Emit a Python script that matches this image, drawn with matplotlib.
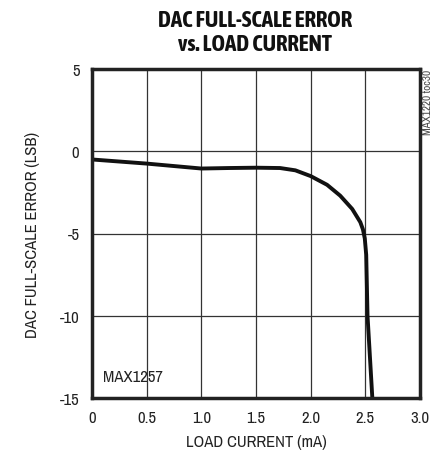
import matplotlib
matplotlib.use("Agg")
import matplotlib.pyplot as plt
from matplotlib import font_manager

load_ma = [0.0, 0.5, 1.0, 1.25, 1.5, 1.72, 1.86, 2.0, 2.15, 2.27, 2.38, 2.454, 2.478, 2.495, 2.508, 2.52, 2.564]
fs_err = [-0.5, -0.75, -1.05, -1.02, -1.0, -1.02, -1.16, -1.51, -2.04, -2.7, -3.51, -4.31, -4.75, -5.3, -6.3, -10.0, -15.0]

x_ticks = [0, 0.5, 1.0, 1.5, 2.0, 2.5, 3.0]
x_labels = ["0", "0.5", "1.0", "1.5", "2.0", "2.5", "3.0"]
y_ticks = [-15, -10, -5, 0, 5]

plt.rcParams["axes.unicode_minus"] = False

# narrow fonts like the datasheet ones
ttf = font_manager.fontManager.ttflist
names = {f.name for f in ttf}
if "Archivo Narrow" in names:
    fp = font_manager.FontProperties(family="Archivo Narrow", style="normal", weight="normal")
else:
    fp = font_manager.FontProperties(family="Liberation Sans")

narrow = [f for f in ttf if ("Narrow" in f.name or "Condensed" in f.name
                             or f.stretch in ("condensed", "semi-condensed"))]
heavy = [f for f in narrow if f.weight in (700, "bold") and f.style == "normal"]
heavy.sort(key=lambda f: (not f.name.startswith("Archivo"), f.name))
if heavy:
    fpb = font_manager.FontProperties(fname=heavy[0].fname)
else:
    fpb = font_manager.FontProperties(family="Liberation Sans", weight="bold")

fig = plt.figure(figsize=(4.43, 4.6), dpi=100)
ax = fig.add_axes([92 / 443, 1 - 399 / 460, 328 / 443, 329 / 460])

ax.plot(load_ma, fs_err, color="#111111", linewidth=2.8, solid_capstyle="butt")

ax.set_xlim(0, 3.0)
ax.set_ylim(-15, 5)
ax.set_xticks(x_ticks)
ax.set_xticklabels(x_labels, fontproperties=fp, fontsize=12)
ax.set_yticks(y_ticks)
ax.set_yticklabels([str(v) for v in y_ticks], fontproperties=fp, fontsize=12)
ax.tick_params(length=0, pad=9, colors="#222222")
ax.grid(True, color="#333333", linewidth=0.9)
for s in ax.spines.values():
    s.set_linewidth(2.5)
    s.set_color("#222222")

ax.set_xlabel("LOAD CURRENT (mA)", fontproperties=fp, fontsize=12, labelpad=6, color="#222222")
ax.set_ylabel("DAC FULL-SCALE ERROR (LSB)", fontproperties=fp, fontsize=12, labelpad=14, color="#222222")

fig.text(255 / 443, 1 - 33 / 460, "DAC FULL-SCALE ERROR\nvs. LOAD CURRENT",
         ha="center", va="center", fontproperties=fpb, fontsize=16.5,
         linespacing=1.1, color="#111111")

ax.text(0.1, -13.7, "MAX1257", fontproperties=fp, fontsize=12, ha="left", va="center", color="#222222")
fig.text(428 / 443, 1 - 70 / 460, "MAX1220 toc30", rotation=90, fontproperties=fp, fontsize=8,
         ha="center", va="top", color="#444444")

fig.savefig("out.png", dpi=100)
